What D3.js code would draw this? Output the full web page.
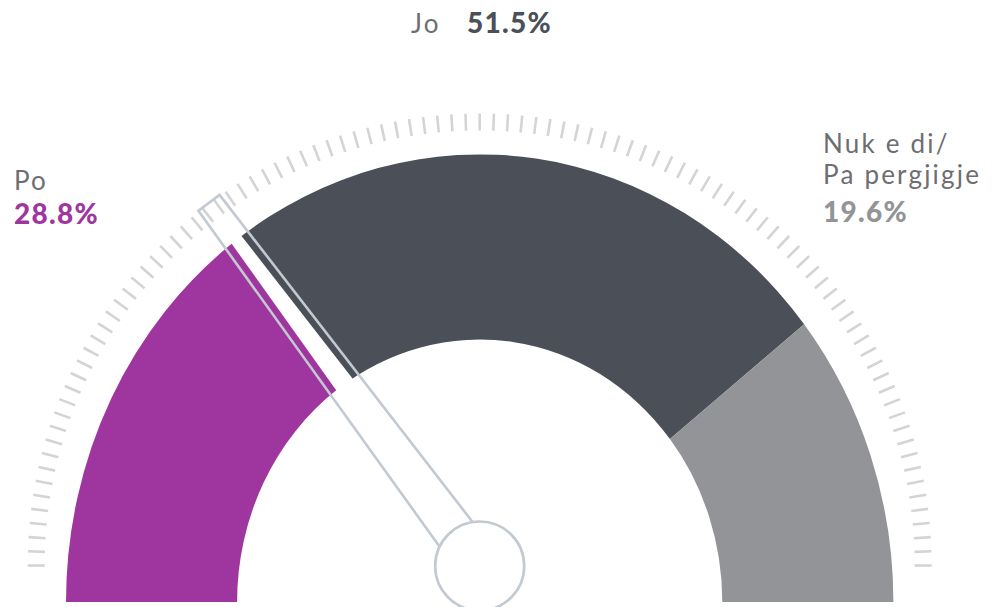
<!DOCTYPE html>
<html>
<head>
<meta charset="utf-8">
<script src="https://cdn.jsdelivr.net/npm/d3@7"></script>
<style>
  html, body { margin: 0; padding: 0; background: #fff; }
  svg { display: block; }
</style>
</head>
<body>
<svg id="gauge"></svg>
<script>
// answers and shares (percent)
const categories = ['Po', 'Jo', 'Nuk e di/ Pa pergjigje'];
const values = [28.8, 51.5, 19.6];
const labelLines = [['Po'], ['Jo'], ['Nuk e di/', 'Pa pergjigje']];
const valueLabels = ['28.8%', '51.5%', '19.6%'];
// scale ticks: every percent from 0 to 100
const tickValues = d3.range(0, 101);

const width = 992;
const height = 607;
const colors = d3.scaleOrdinal().domain(categories).range(['#9f369f', '#4b5058', '#939497']);

const svg = d3.select('#gauge').attr('width', width).attr('height', height);

const deg = Math.PI / 180;
const cx = 479.7, cy = 602, ky = 1.082;
const outerR = 413.7, innerR = 242.6;
const hub = { x: 479.7, y: 566, r: 44.5 };

// value -> angle of the coloured band
const total = d3.sum(values);
const angle = d3.scaleLinear().domain([0, total]).range([-85 * deg, 85 * deg]);
// value -> angle of the tick ring
const tickAngle = d3.scaleLinear().domain([0, 100]).range([-90 * deg, 90 * deg]);

let acc = 0;
const segs = values.map((v, i) => {
  const s = { cat: categories[i], start: angle(acc), end: angle(acc + v) };
  acc += v;
  return s;
});
// band runs down to the base line at both ends
segs[0].start = -90 * deg;
segs[segs.length - 1].end = 90 * deg;

const arc = d3.arc().innerRadius(innerR).outerRadius(outerR);

svg.append('g')
  .attr('transform', 'translate(' + cx + ',' + cy + ') scale(1,' + ky + ')')
  .selectAll('path')
  .data(segs)
  .join('path')
  .attr('d', d => arc({ startAngle: d.start, endAngle: d.end }))
  .attr('fill', d => colors(d.cat));

// needle direction: from hub to the outer edge at the "Po" value
const a = angle(values[0]);
const px = cx + outerR * Math.sin(a);
const py = cy - ky * outerR * Math.cos(a);
const rot = Math.atan2(px - hub.x, hub.y - py) / deg;

const needle = svg.append('g')
  .attr('transform', 'translate(' + hub.x + ',' + hub.y + ') rotate(' + rot + ')');

// white cut through the band
needle.append('path')
  .attr('d', 'M-14.8,0 L-6,-420 L6,-420 L14.8,0 Z')
  .attr('fill', '#fff');

// tick ring
svg.append('g')
  .attr('transform', 'translate(' + hub.x + ',' + 565.5 + ')')
  .selectAll('line')
  .data(tickValues)
  .join('line')
  .attr('x1', d => 435 * Math.sin(tickAngle(d)))
  .attr('y1', d => -435 * Math.cos(tickAngle(d)))
  .attr('x2', d => 452 * Math.sin(tickAngle(d)))
  .attr('y2', d => -452 * Math.cos(tickAngle(d)))
  .attr('stroke', '#d4d4d4')
  .attr('stroke-width', 2.6);

const needle2 = svg.append('g')
  .attr('transform', 'translate(' + hub.x + ',' + hub.y + ') rotate(' + rot + ')');
needle2.append('path')
  .attr('d', 'M-21.3,0 L-13.2,-453 L13.2,-453 L21.3,0')
  .attr('fill', 'none')
  .attr('stroke', '#c2c9d1')
  .attr('stroke-width', 2.6)
  .attr('stroke-linejoin', 'miter');

svg.append('circle')
  .attr('cx', hub.x).attr('cy', hub.y).attr('r', hub.r)
  .attr('fill', '#fff')
  .attr('stroke', '#c2c9d1')
  .attr('stroke-width', 2.6);

// labels
const txt = svg.append('g').attr('font-family', 'Lato, "Noto Sans", sans-serif');
const nameStyle = t => t.attr('font-size', 26).attr('font-weight', 400)
  .attr('fill', '#6d6e71').attr('letter-spacing', 2.2);
const valueStyle = (t, c) => t.attr('font-size', 28).attr('font-weight', 900)
  .attr('fill', colors(c)).attr('letter-spacing', 1.3);

// Jo (top, one line)
const jo = txt.append('text').attr('y', 33);
jo.append('tspan').attr('x', 411).text(labelLines[1][0]).call(nameStyle);
jo.append('tspan').attr('x', 467).text(valueLabels[1]).call(valueStyle, categories[1]);

// Po (left)
txt.append('text').attr('x', 14).attr('y', 190).text(labelLines[0][0]).call(nameStyle);
txt.append('text').attr('x', 14).attr('y', 224).text(valueLabels[0]).call(valueStyle, categories[0]);

// Nuk e di (right)
labelLines[2].forEach((l, i) => {
  txt.append('text').attr('x', 823).attr('y', 153 + i * 31).text(l).call(nameStyle);
});
txt.append('text').attr('x', 823).attr('y', 222).text(valueLabels[2]).call(valueStyle, categories[2]);
</script>
</body>
</html>
